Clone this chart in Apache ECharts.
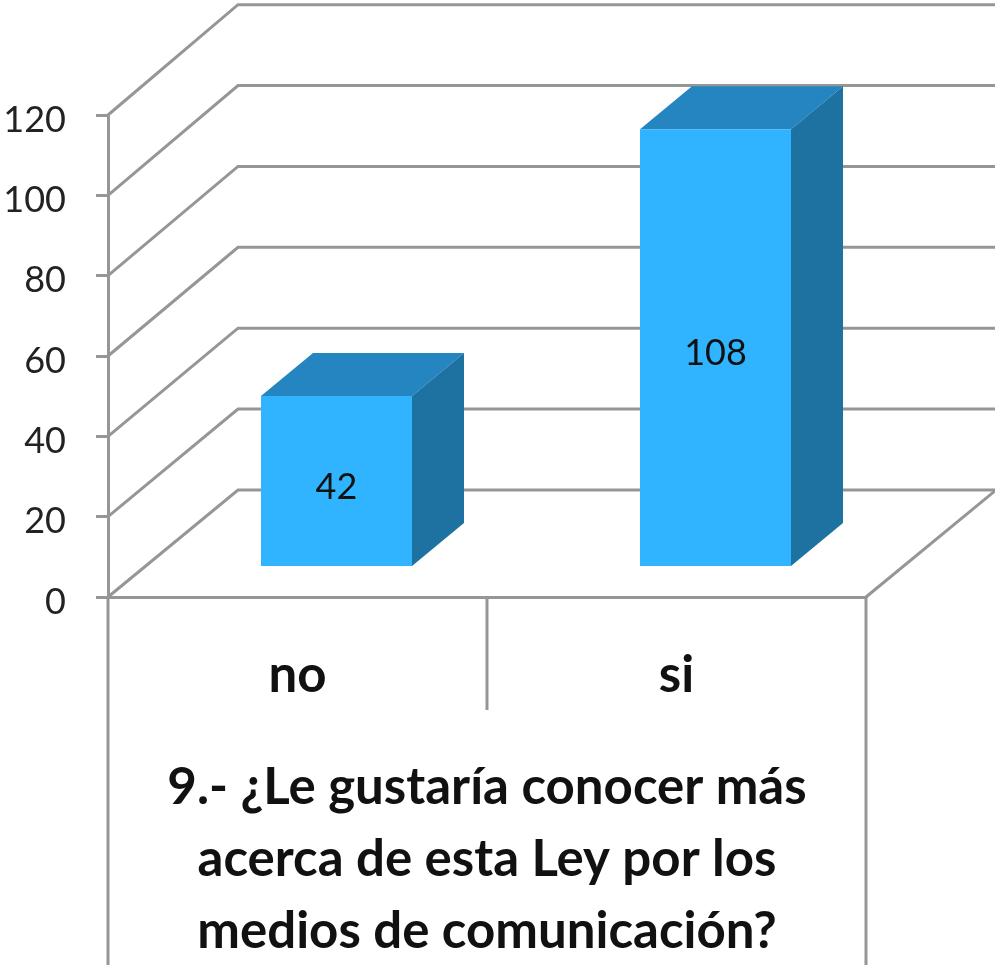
<!DOCTYPE html>
<html>
<head>
<meta charset="utf-8">
<style>html,body{margin:0;padding:0;background:#fff}#chart{width:995px;height:971px}</style>
<script src="https://cdn.jsdelivr.net/npm/echarts@6/dist/echarts.min.js"></script>
</head>
<body>
<div id="chart"></div>
<script>
const categories = ['no', 'si'];
const responses = [42, 108];
const valueTicks = [0, 20, 40, 60, 80, 100, 120];
const axisTitle = '9.- ¿Le gustaría conocer más\nacerca de esta Ley por los\nmedios de comunicación?';

const FONT = 'Lato';
const LINE = '#969696';
const FRONT = '#30B4FF';
const TOP = '#2485C0';
const SIDE = '#1D72A2';

// Oblique projection used to fake the 3D box
const WALL_DX = 130, WALL_DY = 107;
const BAR_DX = 39, BAR_DY = 31;
const BAR_W = 151, BAR_DEPTH_X = 52, BAR_DEPTH_Y = 43;
const DEPTH_SCALE = 1.007;

const lineStyle = { stroke: LINE, lineWidth: 3, fill: null };

// Side wall and back wall rule for one value tick
function renderWall(params, api) {
  const cs = params.coordSys;
  const y0 = api.coord([0, 0])[1];
  const y = api.coord([0, api.value(0)])[1];
  const backY = y0 - WALL_DY - (y0 - y) * DEPTH_SCALE;
  return {
    type: 'polyline',
    shape: { points: [[cs.x, y], [cs.x + WALL_DX, backY], [cs.x + cs.width + WALL_DX, backY]] },
    style: lineStyle,
    silent: true
  };
}

// Floor edge on the right, plus the table rules under the axis
function renderFrame(params, api) {
  const cs = params.coordSys;
  const y0 = cs.y + cs.height;
  const seg = (x1, y1, x2, y2) => ({
    type: 'line', shape: { x1, y1, x2, y2 }, style: lineStyle, silent: true
  });
  return {
    type: 'group',
    children: [
      seg(cs.x + cs.width, y0, cs.x + cs.width + WALL_DX, y0 - WALL_DY),
      seg(cs.x, y0, cs.x, y0 + 368),
      seg(cs.x + cs.width / 2, y0, cs.x + cs.width / 2, y0 + 113),
      seg(cs.x + cs.width, y0, cs.x + cs.width, y0 + 368)
    ]
  };
}

// Box with front, top and side faces, standing on the floor plane
function renderBar(params, api) {
  const value = api.value(1);
  const base = api.coord([api.value(0), 0]);
  const tip = api.coord([api.value(0), value]);
  const l = base[0] + BAR_DX - BAR_W / 2;
  const r = l + BAR_W;
  const b = base[1] - BAR_DY;
  const t = b - (base[1] - tip[1]) * DEPTH_SCALE;
  const dx = BAR_DEPTH_X, dy = BAR_DEPTH_Y;
  return {
    type: 'group',
    children: [
      { type: 'polygon', shape: { points: [[l, t], [l + dx, t - dy], [r + dx, t - dy], [r, t]] }, style: { fill: TOP } },
      { type: 'polygon', shape: { points: [[r, t], [r + dx, t - dy], [r + dx, b - dy], [r, b]] }, style: { fill: SIDE } },
      { type: 'rect', shape: { x: l, y: t, width: BAR_W, height: b - t }, style: { fill: FRONT } },
      {
        type: 'text',
        x: (l + r) / 2,
        y: (t + b) / 2 + 6,
        style: { text: String(value), font: '36px ' + FONT, fill: '#111', align: 'center', verticalAlign: 'middle' }
      }
    ]
  };
}

const chart = echarts.init(document.getElementById('chart'), null, { renderer: 'canvas' });
chart.setOption({
  animation: false,
  backgroundColor: '#fff',
  grid: { left: 108, right: 129, top: 115, bottom: 374, outerBoundsMode: 'none' },
  xAxis: {
    type: 'category',
    data: categories,
    axisLine: { show: true, lineStyle: { color: LINE, width: 3 } },
    axisTick: { show: false },
    axisLabel: { color: '#111', fontFamily: FONT, fontWeight: 700, fontSize: 51, margin: 53 },
    name: axisTitle,
    nameLocation: 'middle',
    nameGap: 155,
    nameTextStyle: { color: '#111', fontFamily: FONT, fontWeight: 700, fontSize: 51, lineHeight: 72 }
  },
  yAxis: {
    type: 'value',
    min: 0,
    max: 120,
    interval: 20,
    splitLine: { show: false },
    axisLine: { show: true, lineStyle: { color: LINE, width: 3 } },
    axisTick: { show: true, length: 12, lineStyle: { color: LINE, width: 3 } },
    axisLabel: {
      margin: 42,
      formatter: '{tick|{value}}',
      rich: { tick: { color: '#222', fontFamily: FONT, fontSize: 36, padding: [10, 0, 0, 0] } }
    }
  },
  series: [
    { type: 'custom', coordinateSystem: 'cartesian2d', clip: false, z: 1, silent: true, renderItem: renderWall, data: valueTicks.map(v => [v]), encode: { y: 0 } },
    { type: 'custom', coordinateSystem: 'cartesian2d', clip: false, z: 1, silent: true, renderItem: renderFrame, data: [[0]] },
    { type: 'custom', coordinateSystem: 'cartesian2d', clip: false, z: 3, silent: true, renderItem: renderBar, data: responses.map((v, i) => [i, v]), encode: { x: 0, y: 1 } }
  ]
});
</script>
</body>
</html>
